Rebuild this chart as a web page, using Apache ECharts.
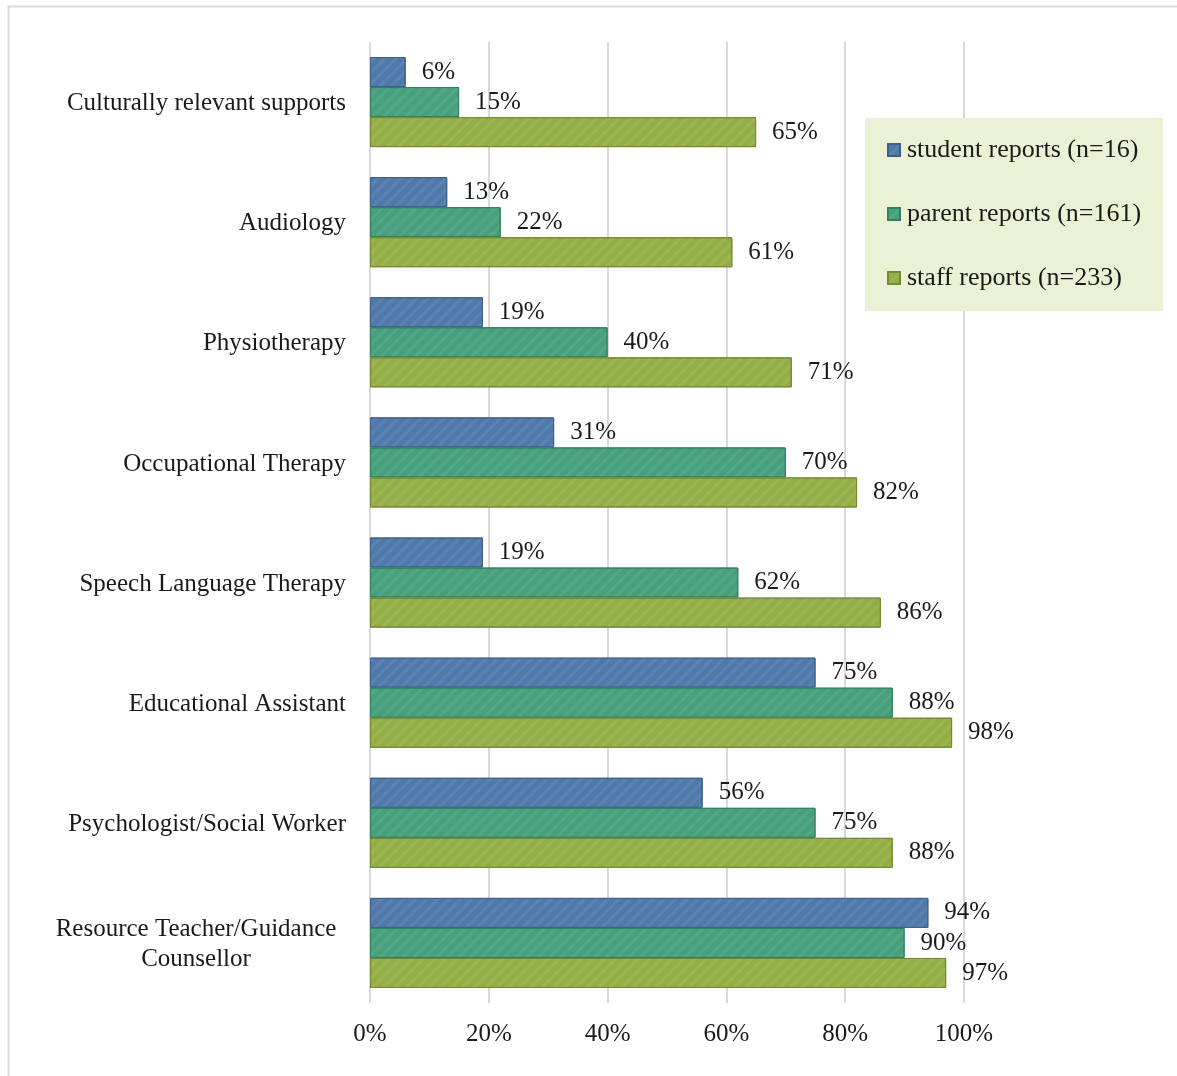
<!DOCTYPE html>
<html><head><meta charset="utf-8">
<script src="https://cdn.jsdelivr.net/npm/echarts@6/dist/echarts.min.js"></script>
<style>html,body{margin:0;padding:0;background:#fff}#c{width:1177px;height:1076px}</style>
</head><body><div id="c"></div>
<script>
var categories = ["Culturally relevant supports","Audiology","Physiotherapy","Occupational Therapy","Speech Language Therapy","Educational Assistant","Psychologist/Social Worker","Resource Teacher/Guidance Counsellor"];
var studentVals = [6,13,19,31,19,75,56,94];
var parentVals = [15,22,40,70,62,88,75,90];
var staffVals = [65,61,71,82,86,98,88,97];
var seriesNames = ["student reports (n=16)","parent reports (n=161)","staff reports (n=233)"];
var xTicks = [0,20,40,60,80,100];

var FONT = '"Liberation Serif", "DejaVu Serif", serif';
var FS = 25;
var colors = ['#5079ab','#47a07c','#94ae46'];
var borders = ['#3d5f88','#367e60','#738a33'];
function mk(i, data){
  return {
    name: seriesNames[i], type:'bar', data:data, barGap:'0%', barCategoryGap:'25%',
    itemStyle:{color:colors[i], borderColor:borders[i], borderWidth:1,
      decal:{symbol:'rect', symbolSize:1, dashArrayX:[1,0], dashArrayY:[3,5], rotation:-Math.PI/4, color:'rgba(255,255,255,0.07)'}},
    label:{show:true, position:'right', distance:16, formatter:'{c}%', fontFamily:FONT, fontSize:FS, color:'#1a1a1a', padding:[3,0,0,0]}
  };
}
var chart = echarts.init(document.getElementById('c'), null, {renderer:'canvas'});
chart.setOption({
  animation:false,
  graphic:[{type:'rect', shape:{x:8.5,y:6.5,width:1300,height:1200}, style:{fill:null, stroke:'#d9d9d9', lineWidth:2}, z:-10}],
  grid:{left:370, top:42, width:594, height:961, containLabel:false},
  legend:{
    orient:'vertical', left:865, top:118,
    padding:[19,22,20,22], itemGap:38, itemWidth:12, itemHeight:12,
    backgroundColor:'#ebf1d5', icon:'rect',
    textStyle:{fontFamily:FONT, fontSize:26, color:'#1a1a1a', lineHeight:24, padding:[0,0,0,2]},
    data:seriesNames
  },
  xAxis:{type:'value', min:0, max:100, interval:20,
    axisLine:{show:false}, axisTick:{show:false},
    splitLine:{show:true, lineStyle:{color:'#d9d9d9', width:2}},
    axisLabel:{formatter:function(v){return xTicks.indexOf(v)>=0? v+'%':'';}, fontFamily:FONT, fontSize:FS, color:'#1a1a1a', margin:19}
  },
  yAxis:{type:'category', data:categories, inverse:true,
    axisLine:{show:false}, axisTick:{show:false},
    axisLabel:{fontFamily:FONT, fontSize:FS, color:'#1a1a1a', margin:24, lineHeight:30, padding:[3,0,0,0],
      formatter:function(v){
        if(v.indexOf('Resource')===0){return '{c|Resource Teacher/Guidance}\n{c|Counsellor}';}
        return v;
      },
      rich:{c:{width:300, align:'center', fontFamily:FONT, fontSize:FS, color:'#1a1a1a', lineHeight:30}}
    }
  },
  series:[mk(0,studentVals), mk(1,parentVals), mk(2,staffVals)]
});
</script></body></html>
